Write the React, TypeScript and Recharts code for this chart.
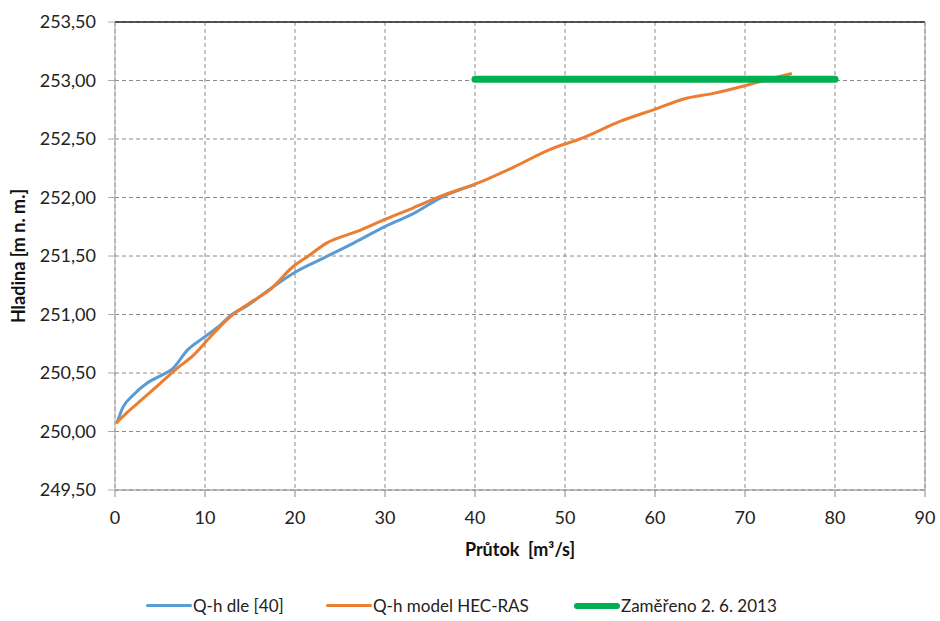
import React from 'react';
import { LineChart, Line, XAxis, YAxis, CartesianGrid, Legend, ReferenceLine } from 'recharts';

const qhDle = [
  { q: 0.2, h: 250.07 }, { q: 0.9, h: 250.21 }, { q: 2.0, h: 250.31 }, { q: 3.5, h: 250.41 },
  { q: 5.4, h: 250.49 }, { q: 6.3, h: 250.53 }, { q: 8.1, h: 250.7 }, { q: 9.8, h: 250.8 },
  { q: 11.7, h: 250.91 }, { q: 13.0, h: 251.0 }, { q: 14.6, h: 251.07 }, { q: 16.9, h: 251.2 },
  { q: 20.2, h: 251.37 }, { q: 23.1, h: 251.48 }, { q: 26.5, h: 251.61 }, { q: 30.2, h: 251.76 },
  { q: 33.1, h: 251.86 }, { q: 36.5, h: 252.01 }, { q: 40.0, h: 252.11 },
];

const qhHecRas = [
  { q: 0.1, h: 250.07 }, { q: 1.3, h: 250.16 }, { q: 3.1, h: 250.28 }, { q: 5.0, h: 250.41 },
  { q: 6.9, h: 250.54 }, { q: 8.7, h: 250.65 }, { q: 10.6, h: 250.81 }, { q: 12.8, h: 250.98 },
  { q: 15.0, h: 251.1 }, { q: 17.2, h: 251.21 }, { q: 19.8, h: 251.41 }, { q: 21.3, h: 251.49 },
  { q: 23.5, h: 251.61 }, { q: 26.9, h: 251.71 }, { q: 30.2, h: 251.82 }, { q: 33.1, h: 251.91 },
  { q: 36.5, h: 252.02 }, { q: 40.2, h: 252.12 }, { q: 44.3, h: 252.26 }, { q: 48.3, h: 252.41 },
  { q: 52.0, h: 252.51 }, { q: 56.1, h: 252.65 }, { q: 60.2, h: 252.76 }, { q: 63.1, h: 252.84 },
  { q: 66.5, h: 252.89 }, { q: 70.2, h: 252.96 }, { q: 73.1, h: 253.02 }, { q: 75.2, h: 253.06 },
];

const zamereno = [
  { q: 40, h: 253.01 },
  { q: 80, h: 253.01 },
];

const xTicks = [0, 10, 20, 30, 40, 50, 60, 70, 80, 90];
const yTicks = [249.5, 250, 250.5, 251, 251.5, 252, 252.5, 253, 253.5];

const legendItems = [
  { label: 'Q-h dle [40]', color: '#5B9BD5', width: 3, x: 146 },
  { label: 'Q-h model HEC-RAS', color: '#ED7D31', width: 3, x: 326 },
  { label: 'Zaměřeno 2. 6. 2013', color: '#00B050', width: 6, x: 574 },
];

const FONT = 'Lato, "Open Sans", sans-serif';

const fmt = (v: number) => v.toFixed(2).replace('.', ',');

const LegendContent = () => (
  <div style={{ position: 'relative', height: 30, fontFamily: FONT, fontSize: 17, color: '#222' }}>
    {legendItems.map((it) => (
      <div key={it.label} style={{ position: 'absolute', left: it.x, top: 4, display: 'flex', alignItems: 'center' }}>
        <div style={{ width: 46, height: it.width, background: it.color, borderRadius: it.width }} />
        <span style={{ marginLeft: 1 }}>{it.label}</span>
      </div>
    ))}
  </div>
);

const App: React.FC = () => {
  return (
    <div style={{ position: 'absolute', left: 0, top: 0, background: '#fff' }}>
      <LineChart width={940} height={621} margin={{ top: 22, right: 15, bottom: 0, left: 0 }}>
        <CartesianGrid stroke="#8a8a8a" strokeDasharray="4 3" />
        <XAxis
          dataKey="q"
          type="number"
          domain={[0, 90]}
          ticks={xTicks}
          allowDataOverflow
          height={101}
          stroke="#888"
          tickSize={7}
          tickMargin={14}
          tick={{ fill: '#222', fontSize: 18, fontFamily: FONT }}
          label={{ value: 'Průtok\u00a0\u00a0[m³/s]', position: 'insideTop', offset: 53, fill: '#111', fontSize: 18, fontWeight: 700, fontFamily: FONT }}
        />
        <YAxis
          dataKey="h"
          type="number"
          domain={[249.5, 253.5]}
          ticks={yTicks}
          allowDataOverflow
          width={115}
          stroke="#aaa"
          tickSize={7}
          tickMargin={12}
          tickFormatter={fmt}
          tick={{ fill: '#222', fontSize: 18, fontFamily: FONT }}
          label={{ value: 'Hladina [m n. m.]', angle: -90, position: 'insideLeft', offset: 19, style: { textAnchor: 'middle' }, fill: '#111', fontSize: 18, fontWeight: 700, fontFamily: FONT }}
        />
        <ReferenceLine y={253.5} stroke="#222" strokeWidth={1.5} />
        <ReferenceLine x={90} stroke="#999" />
        <Line data={qhDle} dataKey="h" name="Q-h dle [40]" type="monotone" stroke="#5B9BD5" strokeWidth={3} dot={false} isAnimationActive={false} />
        <Line data={qhHecRas} dataKey="h" name="Q-h model HEC-RAS" type="monotone" stroke="#ED7D31" strokeWidth={3} dot={false} isAnimationActive={false} />
        <Line data={zamereno} dataKey="h" name="Zaměřeno 2. 6. 2013" type="linear" stroke="#00B050" strokeWidth={7} strokeLinecap="round" dot={false} isAnimationActive={false} />
        <Legend verticalAlign="bottom" height={30} content={<LegendContent />} wrapperStyle={{ left: 0, width: 940 }} />
      </LineChart>
    </div>
  );
};

export default App;
